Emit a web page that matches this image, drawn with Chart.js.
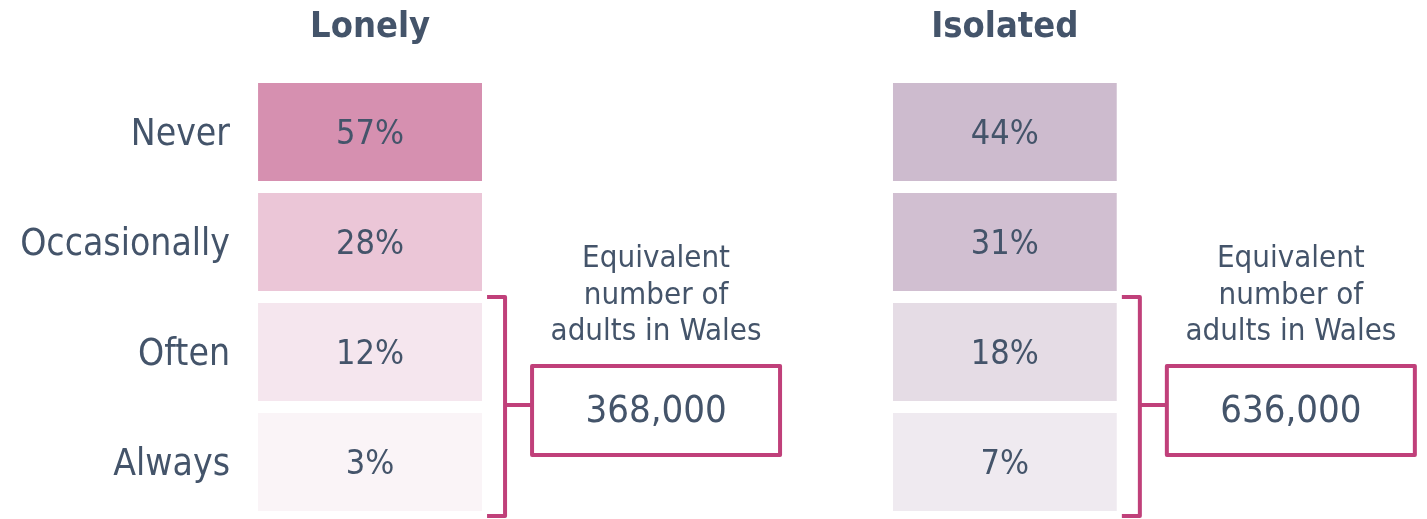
<!DOCTYPE html>
<html>
<head>
<meta charset="utf-8">
<script src="https://cdn.jsdelivr.net/npm/chart.js@4.4.1/dist/chart.umd.min.js"></script>
<style>
  html, body { margin: 0; padding: 0; background: #ffffff; }
</style>
</head>
<body>
<canvas id="chart" width="1427" height="519"></canvas>
<script>
// data
const groups = ['Lonely', 'Isolated'];
const levels = ['Never', 'Occasionally', 'Often', 'Always'];
const lonelyPct = [57, 28, 12, 3];
const isolatedPct = [44, 31, 18, 7];
const adultsInWales = [368000, 636000];
const bracketNote = ['Equivalent', 'number of', 'adults in Wales'];
const bracketLevels = ['Often', 'Always'];

// colours per cell
const lonelyColors = ['#d690b0', '#ebc6d7', '#f5e6ee', '#faf4f7'];
const isolatedColors = ['#cdbbce', '#d1bfd1', '#e5dce5', '#efeaf0'];

const FONT = "'DejaVu Sans Condensed', 'DejaVu Sans', sans-serif";
const TEXT = '#44546a';
const ACCENT = '#c0407a';
const BAR_W = 224;

const groupPct = [lonelyPct, isolatedPct];
const groupColors = [lonelyColors, isolatedColors];

// one stacked dataset per level, one cell per group
const datasets = levels.map(function (lvl, j) {
  return {
    label: lvl,
    data: groups.map(function (g, i) { return { x: i, y: 1 }; }),
    backgroundColor: groups.map(function (g, i) { return groupColors[i][j]; }),
    borderColor: '#ffffff',
    borderWidth: { top: 6, bottom: 6, left: 0, right: 0 },
    borderSkipped: false,
    barThickness: BAR_W,
    inflateAmount: 0
  };
});

// percentages inside each cell
const cellLabels = {
  id: 'cellLabels',
  afterDatasetsDraw(chart) {
    const ctx = chart.ctx;
    ctx.save();
    ctx.font = '34px ' + FONT;
    ctx.fillStyle = TEXT;
    ctx.textAlign = 'center';
    ctx.textBaseline = 'middle';
    chart.data.datasets.forEach(function (ds, j) {
      chart.getDatasetMeta(j).data.forEach(function (bar, i) {
        ctx.fillText(groupPct[i][j] + '%', bar.x, (bar.y + bar.base) / 2 + 3);
      });
    });
    ctx.restore();
  }
};

// bracket + "equivalent number" box next to each column
const brackets = {
  id: 'brackets',
  afterDraw(chart) {
    const ctx = chart.ctx;
    const xs = chart.scales.x, ys = chart.scales.y;
    const top = ys.getPixelForValue(levels.indexOf(bracketLevels[0]));
    const bottom = ys.getPixelForValue(levels.indexOf(bracketLevels[1]) + 1);
    const mid = (top + bottom) / 2;
    ctx.save();
    ctx.strokeStyle = ACCENT;
    ctx.lineWidth = 4;
    ctx.lineJoin = 'round';
    groups.forEach(function (g, i) {
      const right = xs.getPixelForValue(i) + BAR_W / 2;
      const vx = right + 23;
      ctx.beginPath();
      ctx.moveTo(right + 5, top);
      ctx.lineTo(vx, top);
      ctx.lineTo(vx, bottom - 1);
      ctx.lineTo(right + 5, bottom - 1);
      ctx.moveTo(vx, mid - 2);
      ctx.lineTo(vx + 27, mid - 2);
      ctx.stroke();

      const bx = vx + 27, by = mid - 41, bw = 248, bh = 89;
      ctx.strokeRect(bx, by, bw, bh);

      const cx = bx + bw / 2;
      ctx.fillStyle = TEXT;
      ctx.textAlign = 'center';
      ctx.textBaseline = 'middle';
      ctx.font = '38px ' + FONT;
      ctx.fillText(adultsInWales[i].toLocaleString('en-GB'), cx, by + bh / 2 + 2);
      ctx.font = '31px ' + FONT;
      bracketNote.forEach(function (line, k) {
        ctx.fillText(line, cx, by - 107 + k * 36.5);
      });
    });
    ctx.restore();
  }
};

new Chart(document.getElementById('chart'), {
  type: 'bar',
  data: { datasets: datasets },
  options: {
    responsive: false,
    animation: false,
    devicePixelRatio: 1,
    layout: { padding: { top: 0, right: 0, bottom: 2, left: 0 } },
    plugins: {
      legend: { display: false },
      tooltip: { enabled: false }
    },
    scales: {
      x: {
        type: 'linear',
        position: 'top',
        stacked: true,
        offset: false,
        min: -0.197,
        max: 1.665,
        grid: { display: false, drawTicks: false },
        border: { display: false },
        afterBuildTicks: function (scale) {
          scale.ticks = groups.map(function (g, i) { return { value: i }; });
        },
        afterFit: function (scale) {
          scale.height = 77;
          scale.paddingLeft = 0;
          scale.paddingRight = 0;
        },
        ticks: {
          padding: 28,
          color: TEXT,
          font: { family: FONT, size: 36, weight: 'bold' },
          callback: function (v) { return groups[v]; }
        }
      },
      y: {
        type: 'linear',
        stacked: true,
        reverse: true,
        min: 0,
        max: levels.length,
        grid: { display: false, drawTicks: false },
        border: { display: false },
        afterBuildTicks: function (scale) {
          scale.ticks = levels.map(function (l, j) { return { value: j + 0.5 }; });
        },
        afterFit: function (scale) {
          scale.width = 245;
          scale.paddingTop = 0;
          scale.paddingBottom = 0;
        },
        ticks: {
          padding: 15,
          labelOffset: 3,
          color: TEXT,
          font: { family: FONT, size: 37 },
          callback: function (v) { return levels[Math.floor(v)]; }
        }
      }
    }
  },
  plugins: [cellLabels, brackets]
});
</script>
</body>
</html>
